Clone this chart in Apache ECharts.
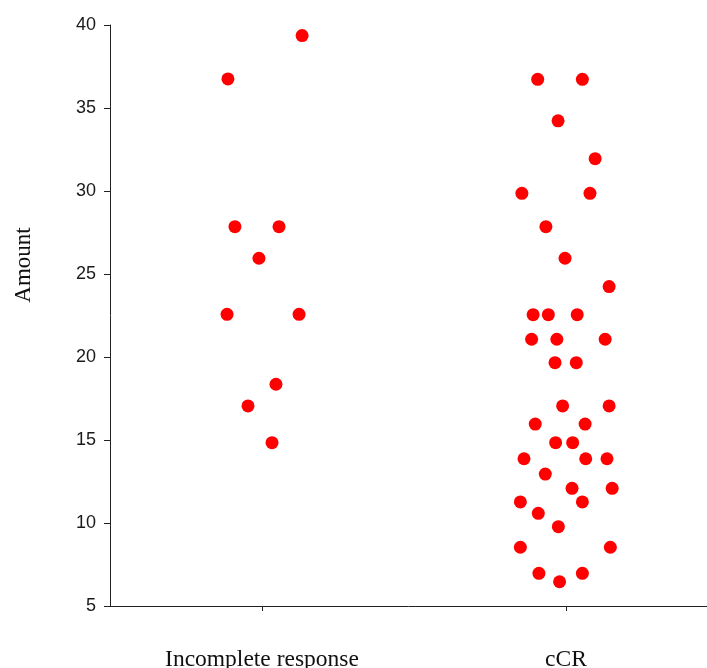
<!DOCTYPE html>
<html>
<head>
<meta charset="utf-8">
<script src="https://cdn.jsdelivr.net/npm/echarts@6/dist/echarts.min.js"></script>
<style>html,body{margin:0;padding:0;background:#fff}#c{width:707px;height:668px}</style>
</head>
<body>
<div id="c"></div>
<script>
const categories = ['Incomplete response', 'cCR'];
const yTicks = [5, 10, 15, 20, 25, 30, 35, 40];
const yAxisName = 'Amount';

// Incomplete response group
const incompleteValues = [39.36, 36.75, 27.85, 27.85, 25.95, 22.57, 22.57, 18.36, 17.05, 14.84];
const incompleteJitter = [0.132, -0.112, -0.089, 0.056, -0.010, -0.115, 0.122, 0.046, -0.046, 0.033];

// cCR group
const ccrValues = [36.73, 36.73, 34.23, 31.95, 29.86, 29.86, 27.85, 25.95, 24.24,
  22.55, 22.55, 22.55, 21.07, 21.07, 21.07, 19.66, 19.66, 17.05, 17.05,
  15.96, 15.96, 14.84, 14.84, 13.87, 13.87, 13.87, 12.95, 12.09, 12.09,
  11.27, 11.27, 10.58, 9.78, 8.54, 8.54, 6.97, 6.97, 6.46];
const ccrJitter = [-0.093, 0.054, -0.026, 0.096, -0.145, 0.079, -0.066, -0.003, 0.142,
  -0.108, -0.058, 0.037, -0.113, -0.030, 0.129, -0.036, 0.034, -0.011, 0.142,
  -0.101, 0.063, -0.034, 0.022, -0.138, 0.065, 0.135, -0.068, 0.020, 0.152,
  -0.150, 0.054, -0.091, -0.025, -0.150, 0.146, -0.089, 0.054, -0.021];

const groups = [
  { values: incompleteValues, jitter: incompleteJitter },
  { values: ccrValues, jitter: ccrJitter }
];

const chart = echarts.init(document.getElementById('c'), null, { renderer: 'canvas' });
const axisColor = '#222';
chart.setOption({
  animation: false,
  backgroundColor: '#fff',
  grid: { left: 110, top: 25, bottom: 62, right: 0, containLabel: false, outerBoundsMode: 'none' },
  xAxis: {
    type: 'value', min: 0.5, max: 2.464,
    splitLine: { show: false },
    axisLine: { show: true, onZero: false, lineStyle: { color: axisColor, width: 1 } },
    axisTick: { show: true, length: 5, customValues: [1, 2], lineStyle: { color: axisColor } },
    axisLabel: {
      customValues: [1, 2],
      formatter: v => categories[Math.round(v) - 1],
      margin: 42,
      fontFamily: 'Liberation Serif', fontSize: 23.5, color: '#111'
    }
  },
  yAxis: {
    type: 'value', min: yTicks[0], max: yTicks[yTicks.length - 1], interval: 5,
    splitLine: { show: false },
    axisLine: { show: true, lineStyle: { color: axisColor, width: 1 } },
    axisTick: { show: true, length: 6, lineStyle: { color: axisColor } },
    axisLabel: { margin: 14, fontFamily: 'Liberation Sans', fontSize: 18, color: '#1a1a1a' }
  },
  graphic: [{
    type: 'text', x: 24, y: 265, rotation: Math.PI / 2,
    style: { text: yAxisName, font: '23px "Liberation Serif"', fill: '#111', align: 'center', verticalAlign: 'middle' }
  }],
  series: groups.map((g, i) => ({
    type: 'scatter',
    name: categories[i],
    symbol: 'circle',
    symbolSize: 13,
    itemStyle: { color: '#ff0000', opacity: 1 },
    data: g.values.map((v, j) => [i + 1 + g.jitter[j], v])
  }))
});
</script>
</body>
</html>
